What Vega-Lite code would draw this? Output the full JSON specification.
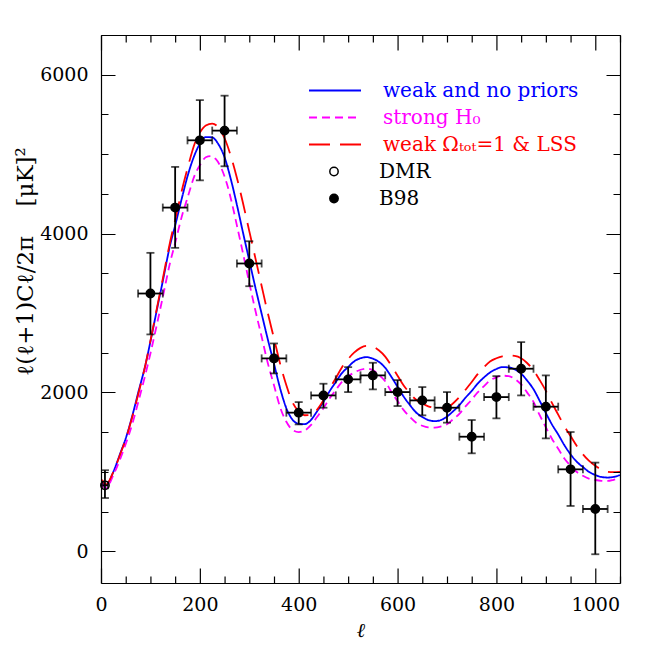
{
 "$schema": "https://vega.github.io/schema/vega-lite/v6.json",
 "width": 519, "height": 548,
 "autosize": "none",
 "padding": {"left": 101, "top": 35, "right": 34, "bottom": 71},
 "background": "white",
 "config": {"view": {"stroke": null}, "font": "DejaVu Serif", "axis": {"zindex": 2}},
 "resolve": {"axis": {"x": "independent", "y": "independent"}},
 "datasets": {
  "pts": [
   {"set": "DMR", "l": 8, "v": 830, "lo": 670, "hi": 1020, "llo": 3, "lhi": 14},
   {"set": "B98", "l": 100, "v": 3245, "lo": 2730, "hi": 3757, "llo": 75, "lhi": 125},
   {"set": "B98", "l": 150, "v": 4327, "lo": 3820, "hi": 4839, "llo": 125, "lhi": 175},
   {"set": "B98", "l": 200, "v": 5174, "lo": 4670, "hi": 5680, "llo": 175, "lhi": 225},
   {"set": "B98", "l": 250, "v": 5296, "lo": 4847, "hi": 5736, "llo": 225, "lhi": 275},
   {"set": "B98", "l": 300, "v": 3623, "lo": 3337, "hi": 3903, "llo": 275, "lhi": 325},
   {"set": "B98", "l": 350, "v": 2428, "lo": 2239, "hi": 2616, "llo": 325, "lhi": 375},
   {"set": "B98", "l": 400, "v": 1745, "lo": 1597, "hi": 1878, "llo": 375, "lhi": 425},
   {"set": "B98", "l": 450, "v": 1962, "lo": 1807, "hi": 2109, "llo": 425, "lhi": 475},
   {"set": "B98", "l": 500, "v": 2164, "lo": 2004, "hi": 2318, "llo": 475, "lhi": 525},
   {"set": "B98", "l": 550, "v": 2214, "lo": 2038, "hi": 2373, "llo": 525, "lhi": 575},
   {"set": "B98", "l": 600, "v": 2004, "lo": 1828, "hi": 2155, "llo": 575, "lhi": 625},
   {"set": "B98", "l": 650, "v": 1899, "lo": 1711, "hi": 2067, "llo": 625, "lhi": 675},
   {"set": "B98", "l": 700, "v": 1807, "lo": 1619, "hi": 2004, "llo": 675, "lhi": 725},
   {"set": "B98", "l": 750, "v": 1442, "lo": 1233, "hi": 1652, "llo": 725, "lhi": 775},
   {"set": "B98", "l": 800, "v": 1941, "lo": 1673, "hi": 2205, "llo": 775, "lhi": 825},
   {"set": "B98", "l": 850, "v": 2298, "lo": 1962, "hi": 2633, "llo": 825, "lhi": 875},
   {"set": "B98", "l": 900, "v": 1820, "lo": 1421, "hi": 2214, "llo": 875, "lhi": 925},
   {"set": "B98", "l": 950, "v": 1031, "lo": 570, "hi": 1501, "llo": 925, "lhi": 975},
   {"set": "B98", "l": 1000, "v": 532, "lo": -38, "hi": 1116, "llo": 975, "lhi": 1025}
  ],
  "curves": [
   {"model": "weak and no priors", "l": 2, "v": 880},
   {"model": "weak and no priors", "l": 10, "v": 830},
   {"model": "weak and no priors", "l": 25, "v": 1000},
   {"model": "weak and no priors", "l": 40, "v": 1250},
   {"model": "weak and no priors", "l": 50, "v": 1420},
   {"model": "weak and no priors", "l": 65, "v": 1745},
   {"model": "weak and no priors", "l": 75, "v": 1990},
   {"model": "weak and no priors", "l": 90, "v": 2350},
   {"model": "weak and no priors", "l": 100, "v": 2640},
   {"model": "weak and no priors", "l": 115, "v": 3100},
   {"model": "weak and no priors", "l": 125, "v": 3400},
   {"model": "weak and no priors", "l": 140, "v": 3860},
   {"model": "weak and no priors", "l": 150, "v": 4100},
   {"model": "weak and no priors", "l": 165, "v": 4480},
   {"model": "weak and no priors", "l": 175, "v": 4720},
   {"model": "weak and no priors", "l": 190, "v": 5000},
   {"model": "weak and no priors", "l": 200, "v": 5130},
   {"model": "weak and no priors", "l": 212, "v": 5215},
   {"model": "weak and no priors", "l": 225, "v": 5210},
   {"model": "weak and no priors", "l": 237, "v": 5130},
   {"model": "weak and no priors", "l": 250, "v": 4960},
   {"model": "weak and no priors", "l": 262, "v": 4700},
   {"model": "weak and no priors", "l": 275, "v": 4360},
   {"model": "weak and no priors", "l": 287, "v": 4020},
   {"model": "weak and no priors", "l": 300, "v": 3660},
   {"model": "weak and no priors", "l": 312, "v": 3330},
   {"model": "weak and no priors", "l": 325, "v": 2990},
   {"model": "weak and no priors", "l": 337, "v": 2680},
   {"model": "weak and no priors", "l": 350, "v": 2360},
   {"model": "weak and no priors", "l": 362, "v": 2060},
   {"model": "weak and no priors", "l": 375, "v": 1800},
   {"model": "weak and no priors", "l": 387, "v": 1660},
   {"model": "weak and no priors", "l": 400, "v": 1605},
   {"model": "weak and no priors", "l": 412, "v": 1600},
   {"model": "weak and no priors", "l": 425, "v": 1655},
   {"model": "weak and no priors", "l": 437, "v": 1760},
   {"model": "weak and no priors", "l": 450, "v": 1880},
   {"model": "weak and no priors", "l": 462, "v": 2010},
   {"model": "weak and no priors", "l": 475, "v": 2130},
   {"model": "weak and no priors", "l": 487, "v": 2240},
   {"model": "weak and no priors", "l": 500, "v": 2320},
   {"model": "weak and no priors", "l": 512, "v": 2390},
   {"model": "weak and no priors", "l": 525, "v": 2430},
   {"model": "weak and no priors", "l": 537, "v": 2444},
   {"model": "weak and no priors", "l": 550, "v": 2425},
   {"model": "weak and no priors", "l": 562, "v": 2385},
   {"model": "weak and no priors", "l": 575, "v": 2310},
   {"model": "weak and no priors", "l": 587, "v": 2200},
   {"model": "weak and no priors", "l": 600, "v": 2070},
   {"model": "weak and no priors", "l": 612, "v": 1950},
   {"model": "weak and no priors", "l": 625, "v": 1840},
   {"model": "weak and no priors", "l": 637, "v": 1750},
   {"model": "weak and no priors", "l": 650, "v": 1690},
   {"model": "weak and no priors", "l": 662, "v": 1652},
   {"model": "weak and no priors", "l": 675, "v": 1638},
   {"model": "weak and no priors", "l": 687, "v": 1650},
   {"model": "weak and no priors", "l": 700, "v": 1695},
   {"model": "weak and no priors", "l": 712, "v": 1760},
   {"model": "weak and no priors", "l": 725, "v": 1840},
   {"model": "weak and no priors", "l": 737, "v": 1930},
   {"model": "weak and no priors", "l": 750, "v": 2020},
   {"model": "weak and no priors", "l": 762, "v": 2110},
   {"model": "weak and no priors", "l": 775, "v": 2190},
   {"model": "weak and no priors", "l": 787, "v": 2250},
   {"model": "weak and no priors", "l": 800, "v": 2295},
   {"model": "weak and no priors", "l": 812, "v": 2318},
   {"model": "weak and no priors", "l": 825, "v": 2315},
   {"model": "weak and no priors", "l": 837, "v": 2290},
   {"model": "weak and no priors", "l": 850, "v": 2235},
   {"model": "weak and no priors", "l": 862, "v": 2150},
   {"model": "weak and no priors", "l": 875, "v": 2040},
   {"model": "weak and no priors", "l": 887, "v": 1900},
   {"model": "weak and no priors", "l": 900, "v": 1740},
   {"model": "weak and no priors", "l": 912, "v": 1600},
   {"model": "weak and no priors", "l": 925, "v": 1470},
   {"model": "weak and no priors", "l": 937, "v": 1340},
   {"model": "weak and no priors", "l": 950, "v": 1220},
   {"model": "weak and no priors", "l": 962, "v": 1130},
   {"model": "weak and no priors", "l": 975, "v": 1060},
   {"model": "weak and no priors", "l": 987, "v": 1000},
   {"model": "weak and no priors", "l": 1000, "v": 960},
   {"model": "weak and no priors", "l": 1012, "v": 935},
   {"model": "weak and no priors", "l": 1025, "v": 928},
   {"model": "weak and no priors", "l": 1037, "v": 935},
   {"model": "weak and no priors", "l": 1050, "v": 960},
   {"model": "strong H₀", "l": 2, "v": 850},
   {"model": "strong H₀", "l": 10, "v": 790},
   {"model": "strong H₀", "l": 25, "v": 960},
   {"model": "strong H₀", "l": 40, "v": 1180},
   {"model": "strong H₀", "l": 50, "v": 1350},
   {"model": "strong H₀", "l": 65, "v": 1640},
   {"model": "strong H₀", "l": 75, "v": 1870},
   {"model": "strong H₀", "l": 90, "v": 2230},
   {"model": "strong H₀", "l": 100, "v": 2490},
   {"model": "strong H₀", "l": 115, "v": 2910},
   {"model": "strong H₀", "l": 125, "v": 3200},
   {"model": "strong H₀", "l": 140, "v": 3640},
   {"model": "strong H₀", "l": 150, "v": 3880},
   {"model": "strong H₀", "l": 165, "v": 4250},
   {"model": "strong H₀", "l": 175, "v": 4450},
   {"model": "strong H₀", "l": 190, "v": 4740},
   {"model": "strong H₀", "l": 200, "v": 4860},
   {"model": "strong H₀", "l": 212, "v": 4960},
   {"model": "strong H₀", "l": 222, "v": 4975},
   {"model": "strong H₀", "l": 232, "v": 4940},
   {"model": "strong H₀", "l": 245, "v": 4800},
   {"model": "strong H₀", "l": 255, "v": 4620},
   {"model": "strong H₀", "l": 265, "v": 4380},
   {"model": "strong H₀", "l": 275, "v": 4100},
   {"model": "strong H₀", "l": 287, "v": 3760},
   {"model": "strong H₀", "l": 300, "v": 3380},
   {"model": "strong H₀", "l": 312, "v": 3040},
   {"model": "strong H₀", "l": 325, "v": 2700},
   {"model": "strong H₀", "l": 337, "v": 2380},
   {"model": "strong H₀", "l": 350, "v": 2090},
   {"model": "strong H₀", "l": 362, "v": 1820},
   {"model": "strong H₀", "l": 375, "v": 1630},
   {"model": "strong H₀", "l": 387, "v": 1530},
   {"model": "strong H₀", "l": 400, "v": 1500},
   {"model": "strong H₀", "l": 412, "v": 1520},
   {"model": "strong H₀", "l": 425, "v": 1590},
   {"model": "strong H₀", "l": 437, "v": 1690},
   {"model": "strong H₀", "l": 450, "v": 1800},
   {"model": "strong H₀", "l": 462, "v": 1920},
   {"model": "strong H₀", "l": 475, "v": 2030},
   {"model": "strong H₀", "l": 487, "v": 2130},
   {"model": "strong H₀", "l": 500, "v": 2200},
   {"model": "strong H₀", "l": 512, "v": 2250},
   {"model": "strong H₀", "l": 525, "v": 2285},
   {"model": "strong H₀", "l": 537, "v": 2300},
   {"model": "strong H₀", "l": 550, "v": 2280},
   {"model": "strong H₀", "l": 562, "v": 2220},
   {"model": "strong H₀", "l": 575, "v": 2140},
   {"model": "strong H₀", "l": 587, "v": 2010},
   {"model": "strong H₀", "l": 600, "v": 1890},
   {"model": "strong H₀", "l": 612, "v": 1780},
   {"model": "strong H₀", "l": 625, "v": 1690},
   {"model": "strong H₀", "l": 637, "v": 1620},
   {"model": "strong H₀", "l": 650, "v": 1580},
   {"model": "strong H₀", "l": 662, "v": 1560},
   {"model": "strong H₀", "l": 675, "v": 1557},
   {"model": "strong H₀", "l": 687, "v": 1570},
   {"model": "strong H₀", "l": 700, "v": 1600},
   {"model": "strong H₀", "l": 712, "v": 1660},
   {"model": "strong H₀", "l": 725, "v": 1730},
   {"model": "strong H₀", "l": 737, "v": 1820},
   {"model": "strong H₀", "l": 750, "v": 1910},
   {"model": "strong H₀", "l": 762, "v": 2000},
   {"model": "strong H₀", "l": 775, "v": 2080},
   {"model": "strong H₀", "l": 787, "v": 2150},
   {"model": "strong H₀", "l": 800, "v": 2190},
   {"model": "strong H₀", "l": 812, "v": 2210},
   {"model": "strong H₀", "l": 825, "v": 2205},
   {"model": "strong H₀", "l": 837, "v": 2170},
   {"model": "strong H₀", "l": 850, "v": 2100},
   {"model": "strong H₀", "l": 862, "v": 2000},
   {"model": "strong H₀", "l": 875, "v": 1880},
   {"model": "strong H₀", "l": 887, "v": 1720},
   {"model": "strong H₀", "l": 900, "v": 1560},
   {"model": "strong H₀", "l": 912, "v": 1420},
   {"model": "strong H₀", "l": 925, "v": 1290},
   {"model": "strong H₀", "l": 937, "v": 1170},
   {"model": "strong H₀", "l": 950, "v": 1075},
   {"model": "strong H₀", "l": 962, "v": 1000},
   {"model": "strong H₀", "l": 975, "v": 950},
   {"model": "strong H₀", "l": 987, "v": 915},
   {"model": "strong H₀", "l": 1000, "v": 897},
   {"model": "strong H₀", "l": 1012, "v": 887},
   {"model": "strong H₀", "l": 1025, "v": 885},
   {"model": "strong H₀", "l": 1037, "v": 900},
   {"model": "strong H₀", "l": 1050, "v": 925},
   {"model": "weak Ωₜₒₜ=1 & LSS", "l": 2, "v": 900},
   {"model": "weak Ωₜₒₜ=1 & LSS", "l": 10, "v": 840},
   {"model": "weak Ωₜₒₜ=1 & LSS", "l": 25, "v": 1000},
   {"model": "weak Ωₜₒₜ=1 & LSS", "l": 40, "v": 1240},
   {"model": "weak Ωₜₒₜ=1 & LSS", "l": 50, "v": 1410},
   {"model": "weak Ωₜₒₜ=1 & LSS", "l": 65, "v": 1730},
   {"model": "weak Ωₜₒₜ=1 & LSS", "l": 75, "v": 1970},
   {"model": "weak Ωₜₒₜ=1 & LSS", "l": 90, "v": 2350},
   {"model": "weak Ωₜₒₜ=1 & LSS", "l": 100, "v": 2650},
   {"model": "weak Ωₜₒₜ=1 & LSS", "l": 115, "v": 3120},
   {"model": "weak Ωₜₒₜ=1 & LSS", "l": 125, "v": 3430},
   {"model": "weak Ωₜₒₜ=1 & LSS", "l": 140, "v": 3900},
   {"model": "weak Ωₜₒₜ=1 & LSS", "l": 150, "v": 4170},
   {"model": "weak Ωₜₒₜ=1 & LSS", "l": 165, "v": 4580},
   {"model": "weak Ωₜₒₜ=1 & LSS", "l": 175, "v": 4820},
   {"model": "weak Ωₜₒₜ=1 & LSS", "l": 190, "v": 5140},
   {"model": "weak Ωₜₒₜ=1 & LSS", "l": 200, "v": 5270},
   {"model": "weak Ωₜₒₜ=1 & LSS", "l": 212, "v": 5360},
   {"model": "weak Ωₜₒₜ=1 & LSS", "l": 225, "v": 5385},
   {"model": "weak Ωₜₒₜ=1 & LSS", "l": 237, "v": 5340},
   {"model": "weak Ωₜₒₜ=1 & LSS", "l": 250, "v": 5200},
   {"model": "weak Ωₜₒₜ=1 & LSS", "l": 262, "v": 4990},
   {"model": "weak Ωₜₒₜ=1 & LSS", "l": 275, "v": 4700},
   {"model": "weak Ωₜₒₜ=1 & LSS", "l": 287, "v": 4390},
   {"model": "weak Ωₜₒₜ=1 & LSS", "l": 300, "v": 4030},
   {"model": "weak Ωₜₒₜ=1 & LSS", "l": 312, "v": 3700},
   {"model": "weak Ωₜₒₜ=1 & LSS", "l": 325, "v": 3340},
   {"model": "weak Ωₜₒₜ=1 & LSS", "l": 337, "v": 3010},
   {"model": "weak Ωₜₒₜ=1 & LSS", "l": 350, "v": 2680},
   {"model": "weak Ωₜₒₜ=1 & LSS", "l": 362, "v": 2370},
   {"model": "weak Ωₜₒₜ=1 & LSS", "l": 375, "v": 2090},
   {"model": "weak Ωₜₒₜ=1 & LSS", "l": 387, "v": 1880},
   {"model": "weak Ωₜₒₜ=1 & LSS", "l": 400, "v": 1760},
   {"model": "weak Ωₜₒₜ=1 & LSS", "l": 412, "v": 1712},
   {"model": "weak Ωₜₒₜ=1 & LSS", "l": 425, "v": 1715},
   {"model": "weak Ωₜₒₜ=1 & LSS", "l": 437, "v": 1780},
   {"model": "weak Ωₜₒₜ=1 & LSS", "l": 450, "v": 1900},
   {"model": "weak Ωₜₒₜ=1 & LSS", "l": 462, "v": 2040},
   {"model": "weak Ωₜₒₜ=1 & LSS", "l": 475, "v": 2180},
   {"model": "weak Ωₜₒₜ=1 & LSS", "l": 487, "v": 2310},
   {"model": "weak Ωₜₒₜ=1 & LSS", "l": 500, "v": 2420},
   {"model": "weak Ωₜₒₜ=1 & LSS", "l": 512, "v": 2500},
   {"model": "weak Ωₜₒₜ=1 & LSS", "l": 525, "v": 2560},
   {"model": "weak Ωₜₒₜ=1 & LSS", "l": 537, "v": 2585},
   {"model": "weak Ωₜₒₜ=1 & LSS", "l": 550, "v": 2575},
   {"model": "weak Ωₜₒₜ=1 & LSS", "l": 562, "v": 2530},
   {"model": "weak Ωₜₒₜ=1 & LSS", "l": 575, "v": 2450},
   {"model": "weak Ωₜₒₜ=1 & LSS", "l": 587, "v": 2340},
   {"model": "weak Ωₜₒₜ=1 & LSS", "l": 600, "v": 2210},
   {"model": "weak Ωₜₒₜ=1 & LSS", "l": 612, "v": 2090},
   {"model": "weak Ωₜₒₜ=1 & LSS", "l": 625, "v": 1990},
   {"model": "weak Ωₜₒₜ=1 & LSS", "l": 637, "v": 1910},
   {"model": "weak Ωₜₒₜ=1 & LSS", "l": 650, "v": 1860},
   {"model": "weak Ωₜₒₜ=1 & LSS", "l": 662, "v": 1825},
   {"model": "weak Ωₜₒₜ=1 & LSS", "l": 675, "v": 1805},
   {"model": "weak Ωₜₒₜ=1 & LSS", "l": 687, "v": 1800},
   {"model": "weak Ωₜₒₜ=1 & LSS", "l": 700, "v": 1810},
   {"model": "weak Ωₜₒₜ=1 & LSS", "l": 712, "v": 1860},
   {"model": "weak Ωₜₒₜ=1 & LSS", "l": 725, "v": 1940},
   {"model": "weak Ωₜₒₜ=1 & LSS", "l": 737, "v": 2030},
   {"model": "weak Ωₜₒₜ=1 & LSS", "l": 750, "v": 2130},
   {"model": "weak Ωₜₒₜ=1 & LSS", "l": 762, "v": 2230},
   {"model": "weak Ωₜₒₜ=1 & LSS", "l": 775, "v": 2320},
   {"model": "weak Ωₜₒₜ=1 & LSS", "l": 787, "v": 2390},
   {"model": "weak Ωₜₒₜ=1 & LSS", "l": 800, "v": 2430},
   {"model": "weak Ωₜₒₜ=1 & LSS", "l": 812, "v": 2455},
   {"model": "weak Ωₜₒₜ=1 & LSS", "l": 825, "v": 2465},
   {"model": "weak Ωₜₒₜ=1 & LSS", "l": 837, "v": 2460},
   {"model": "weak Ωₜₒₜ=1 & LSS", "l": 850, "v": 2430},
   {"model": "weak Ωₜₒₜ=1 & LSS", "l": 862, "v": 2370},
   {"model": "weak Ωₜₒₜ=1 & LSS", "l": 875, "v": 2280},
   {"model": "weak Ωₜₒₜ=1 & LSS", "l": 887, "v": 2160},
   {"model": "weak Ωₜₒₜ=1 & LSS", "l": 900, "v": 2020},
   {"model": "weak Ωₜₒₜ=1 & LSS", "l": 912, "v": 1870},
   {"model": "weak Ωₜₒₜ=1 & LSS", "l": 925, "v": 1720},
   {"model": "weak Ωₜₒₜ=1 & LSS", "l": 937, "v": 1580},
   {"model": "weak Ωₜₒₜ=1 & LSS", "l": 950, "v": 1450},
   {"model": "weak Ωₜₒₜ=1 & LSS", "l": 962, "v": 1330},
   {"model": "weak Ωₜₒₜ=1 & LSS", "l": 975, "v": 1220},
   {"model": "weak Ωₜₒₜ=1 & LSS", "l": 987, "v": 1140},
   {"model": "weak Ωₜₒₜ=1 & LSS", "l": 1000, "v": 1075},
   {"model": "weak Ωₜₒₜ=1 & LSS", "l": 1012, "v": 1030},
   {"model": "weak Ωₜₒₜ=1 & LSS", "l": 1025, "v": 1000},
   {"model": "weak Ωₜₒₜ=1 & LSS", "l": 1037, "v": 995},
   {"model": "weak Ωₜₒₜ=1 & LSS", "l": 1050, "v": 1000}
  ]
 },
 "layer": [
  {
   "mark": {"type": "rule", "color": "black", "strokeWidth": 1.5, "strokeDash": [18, 8]},
   "encoding": {"y": {"datum": 0, "type": "quantitative", "axis": null}}
  },
  {
   "data": {"name": "curves"},
   "mark": {"type": "line", "strokeWidth": 1.8, "interpolate": "monotone"},
   "encoding": {
    "x": {"field": "l", "type": "quantitative",
     "scale": {"domain": [0, 1050], "nice": false, "zero": false},
     "axis": {"orient": "bottom", "zindex": 2,
      "values": [0,50,100,150,200,250,300,350,400,450,500,550,600,650,700,750,800,850,900,950,1000,1050],
      "labelExpr": "datum.value % 200 === 0 ? datum.label : ''",
      "format": "d",
      "ticks": true, "tickColor": "black", "tickWidth": 1.2, "tickOpacity": 1,
      "tickOffset": 0, "bandPosition": 0, "tickRound": false,
      "tickSize": {"condition": {"test": "datum.value % 200 === 0", "value": -15}, "value": -7},
      "domain": true, "domainColor": "black", "domainWidth": 1.2, "grid": false,
      "labelFlush": false, "labelOverlap": false,
      "labelFont": "DejaVu Serif", "labelFontSize": 19, "labelColor": "black", "labelPadding": 27,
      "title": "ℓ", "titleFont": "DejaVu Serif", "titleFontStyle": "italic", "titleFontSize": 20,
      "titleFontWeight": "normal", "titleColor": "black", "titleBaseline": "middle", "titleY": 47}},
    "y": {"field": "v", "type": "quantitative",
     "scale": {"domain": [-400, 6500], "nice": false, "zero": false},
     "axis": {"orient": "left", "zindex": 2,
      "values": [0,500,1000,1500,2000,2500,3000,3500,4000,4500,5000,5500,6000,6500],
      "labelExpr": "datum.value % 2000 === 0 ? datum.label : ''",
      "format": "d",
      "ticks": false,
      "grid": true, "gridColor": "black", "gridWidth": 1.2, "gridOpacity": 1,
      "gridDash": {"condition": {"test": "datum.value % 2000 === 0", "value": [14, 491, 14, 600]}, "value": [7, 505, 7, 600]},
      "domain": true, "domainColor": "black", "domainWidth": 1.2,
      "labelFlush": false, "labelOverlap": false,
      "labelFont": "DejaVu Serif", "labelFontSize": 19, "labelColor": "black", "labelPadding": 13,
      "title": "ℓ(ℓ+1)Cℓ/2π\u00a0\u00a0\u00a0\u00a0[μK]²", "titleFont": "DejaVu Serif", "titleFontSize": 23,
      "titleFontWeight": "normal", "titleColor": "black", "titleAngle": -90, "titleAlign": "center",
      "titleBaseline": "middle", "titleX": -76, "titleY": 226}},
    "color": {"field": "model", "type": "nominal",
     "scale": {"domain": ["weak and no priors", "strong H₀", "weak Ωₜₒₜ=1 & LSS"], "range": ["#0000ff", "#ff00ff", "#ff0000"]},
     "legend": {"orient": "none", "legendX": 207, "legendY": 42, "title": null,
      "symbolType": "stroke", "symbolSize": 2704, "symbolStrokeWidth": 2,
      "labelFont": "DejaVu Serif", "labelFontSize": 20, "labelOffset": 21, "labelLimit": 400,
      "clipHeight": 27, "rowPadding": 0, "padding": 0,
      "encode": {"labels": {"update": {"fill": {"scale": "color", "field": "value"}}}}}},
    "strokeDash": {"field": "model", "type": "nominal",
     "scale": {"domain": ["weak and no priors", "strong H₀", "weak Ωₜₒₜ=1 & LSS"], "range": [[1, 0], [8, 5], [21, 10]]}}
   }
  },
  {
   "data": {"name": "pts"},
   "mark": {"type": "errorbar", "color": "black", "ticks": {"size": 8, "thickness": 1.8, "color": "black"}, "rule": {"strokeWidth": 1.8, "color": "black"}},
   "encoding": {
    "x": {"field": "l", "type": "quantitative", "axis": null},
    "y": {"field": "lo", "type": "quantitative", "axis": null},
    "y2": {"field": "hi"}
   }
  },
  {
   "data": {"name": "pts"},
   "mark": {"type": "errorbar", "color": "black", "ticks": {"size": 8, "thickness": 1.8, "color": "black"}, "rule": {"strokeWidth": 1.8, "color": "black"}},
   "encoding": {
    "x": {"field": "llo", "type": "quantitative", "axis": null},
    "x2": {"field": "lhi"},
    "y": {"field": "v", "type": "quantitative", "axis": null}
   }
  },
  {
   "data": {"name": "pts"},
   "mark": {"type": "point", "shape": "circle", "stroke": "black", "strokeWidth": 1.5, "size": 70, "opacity": 1},
   "encoding": {
    "x": {"field": "l", "type": "quantitative",
     "axis": {"orient": "top", "zindex": 2,
      "values": [0,50,100,150,200,250,300,350,400,450,500,550,600,650,700,750,800,850,900,950,1000,1050],
      "labels": false, "title": null, "grid": false,
      "domain": true, "domainColor": "black", "domainWidth": 1.2,
      "ticks": true, "tickColor": "black", "tickWidth": 1.2, "tickOpacity": 1,
      "tickOffset": 0, "bandPosition": 0, "tickRound": false,
      "tickSize": {"condition": {"test": "datum.value % 200 === 0", "value": -15}, "value": -7}}},
    "y": {"field": "v", "type": "quantitative",
     "axis": {"orient": "right", "zindex": 2,
      "values": [0,500,1000,1500,2000,2500,3000,3500,4000,4500,5000,5500,6000,6500],
      "labels": false, "title": null, "grid": false, "ticks": false,
      "domain": true, "domainColor": "black", "domainWidth": 1.2}},
    "fill": {"field": "set", "type": "nominal",
     "scale": {"domain": ["DMR", "B98"], "range": ["transparent", "black"]},
     "legend": {"orient": "none", "legendX": 223, "legendY": 123, "title": null,
      "symbolType": "circle", "symbolSize": 70, "symbolStrokeColor": "black", "symbolStrokeWidth": 1.5,
      "labelFont": "DejaVu Serif", "labelFontSize": 20, "labelOffset": 35, "labelColor": "black",
      "clipHeight": 27, "rowPadding": 0, "padding": 0}}
   }
  }
 ]
}
